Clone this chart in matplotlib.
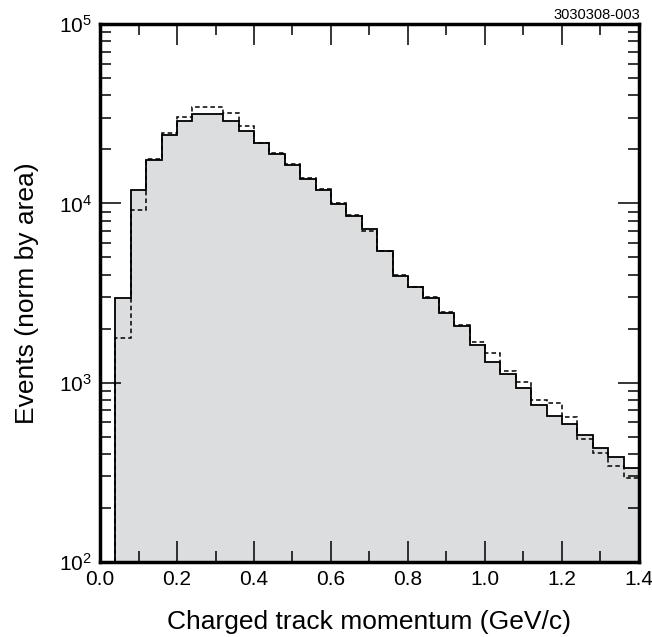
import numpy as np
import matplotlib
matplotlib.use("Agg")
import matplotlib.pyplot as plt
from matplotlib.ticker import LogLocator, MultipleLocator

plt.rcParams['font.family'] = ['Liberation Sans', 'DejaVu Sans']
plt.rcParams['mathtext.fontset'] = 'custom'
plt.rcParams['mathtext.rm'] = 'Liberation Sans'

# bin edges: 0.04 .. 1.40 in steps of 0.04
edges = np.round(np.arange(0.04, 1.4001, 0.04), 2)

# solid histogram (filled)
solid = [2985, 11800, 17500, 24200, 28700, 31300, 31300, 28700, 25300, 21700,
         18950, 16450, 13740, 11870, 9950, 8540, 7160, 5420, 3950, 3410,
         2960, 2440, 2060, 1625, 1305, 1119, 938, 750, 654, 590,
         512, 435, 383, 334]

# dashed histogram
dashed = [1780, 9200, 17700, 24800, 30300, 34500, 34500, 31700, 27000, 21700,
          19200, 16600, 13900, 12000, 10100, 8600, 7050, 5450, 3980, 3430,
          2990, 2470, 2100, 1680, 1460, 1167, 1005, 803, 766, 646,
          486, 405, 345, 296]

fig = plt.figure(figsize=(6.52, 6.37), dpi=100)
ax = fig.add_axes([0.1534, 0.1177, 0.8266, 0.8446])

ax.set_yscale('log')
ax.stairs(solid, edges, baseline=10, fill=True, color='#dcdddf', lw=0)
ax.stairs(solid, edges, baseline=10, color='black', lw=1.3)
ax.stairs(dashed, edges, baseline=10, color='black', lw=1.1,
          linestyle=(0, (3, 2)))

ax.set_xlim(0, 1.4)
ax.set_ylim(100, 1e5)

ax.xaxis.set_major_locator(MultipleLocator(0.2))
ax.xaxis.set_minor_locator(MultipleLocator(0.1))
ax.yaxis.set_major_locator(LogLocator(base=10))
ax.yaxis.set_minor_locator(LogLocator(base=10, subs=np.arange(2, 10)))
ax.xaxis.set_major_formatter(plt.FuncFormatter(lambda v, p: f'{v:.1f}'))

ax.tick_params(which='both', direction='in', top=True, right=True,
               labelsize=15, width=1.1, pad=6)
ax.tick_params(which='major', length=15)
ax.tick_params(which='minor', length=8)
for s in ax.spines.values():
    s.set_linewidth(2.5)

ax.set_xlabel('Charged track momentum (GeV/c)', fontsize=19, labelpad=15)
ax.set_ylabel('Events (norm by area)', fontsize=19, labelpad=14)

fig.text(0.982, 0.965, '3030308-003', fontsize=10.5, ha='right', va='bottom')

fig.savefig('out.png', dpi=100)
